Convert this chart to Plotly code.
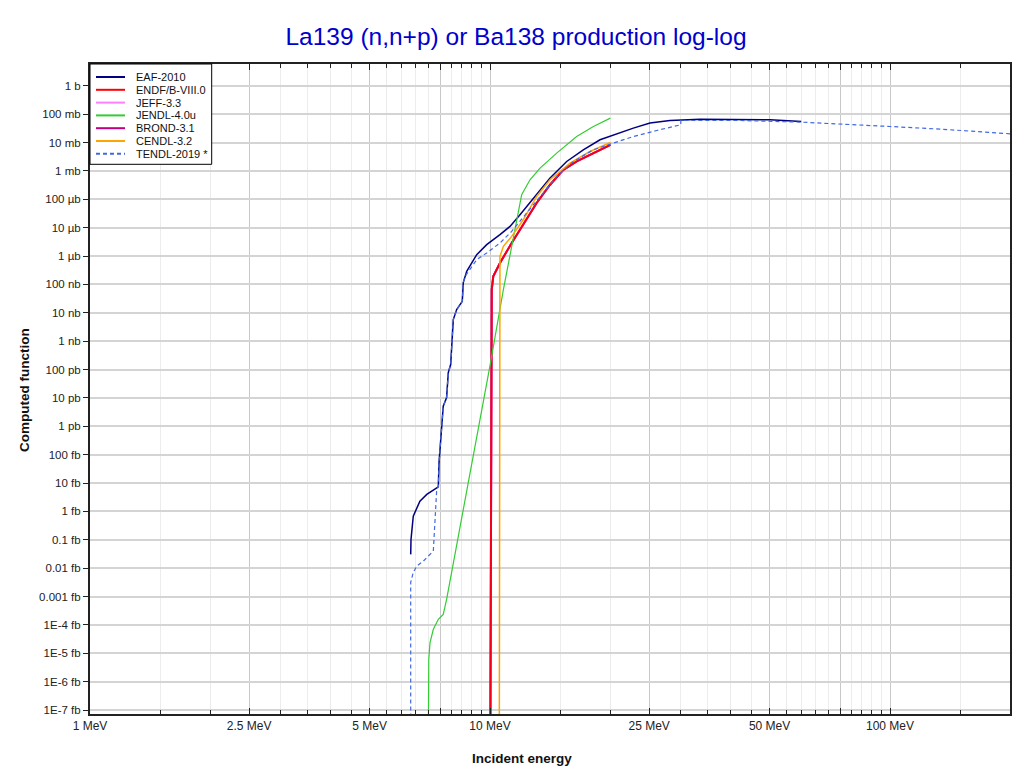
import plotly.graph_objects as go

TITLE = "La139 (n,n+p) or Ba138 production log-log"
X_TITLE = "Incident energy"
Y_TITLE = "Computed function"

SERIES_NAMES = ["EAF-2010", "ENDF/B-VIII.0", "JEFF-3.3", "JENDL-4.0u",
                "BROND-3.1", "CENDL-3.2", "TENDL-2019 *"]
SERIES_COLORS = ["#000080", "#ff0000", "#ff80ff", "#33cc33",
                 "#c0007f", "#ffa500", "#4169e1"]
SERIES_DASH = ["solid", "solid", "solid", "solid", "solid", "solid", "dash"]

# Energies in MeV, cross sections in barn
eaf_energy = [6.335, 6.346, 6.43, 6.68, 6.95, 7.427, 7.457, 7.499, 7.57, 7.64,
              7.79, 7.865, 7.974, 8.035, 8.095, 8.254, 8.525, 8.575, 8.745, 9.263,
              9.812, 10.59, 11.22, 11.885, 12.83, 14.13, 15.55, 17.11, 18.84, 20.33,
              22.82, 25.12, 28.18, 33.5, 38.23, 50.1, 60.0]
eaf_xs = [3.06e-17, 1.03e-16, 6.84e-16, 2.31e-15, 3.97e-15, 7.41e-15, 5.19e-14, 1.52e-13, 7.71e-13, 5.1e-12,
          1.03e-11, 7.83e-11, 1.5e-10, 1.14e-9, 5.77e-9, 1.3e-8, 2.54e-8, 1.16e-7, 2.89e-7, 1.12e-6,
          2.52e-6, 5.68e-6, 1.11e-5, 2.87e-5, 1.11e-4, 5.62e-4, 2.16e-3, 5.57e-3, 1.26e-2, 1.88e-2,
          3.24e-2, 4.86e-2, 6.0e-2, 6.71e-2, 6.71e-2, 6.35e-2, 5.53e-2]

endf_energy = [10.02, 10.07, 10.10, 10.19, 10.59, 11.33, 12.11, 13.08, 14.13, 15.25, 16.47, 18.13, 20.0]
endf_xs = [1e-23, 3e-8, 6.56e-8, 1.93e-7, 5.71e-7, 2.89e-6, 1.28e-5, 7.41e-5, 3.27e-4, 1.10e-3,
           2.16e-3, 4.27e-3, 8.37e-3]

# JEFF-3.3 and BROND-3.1 coincide with ENDF/B-VIII.0 (hidden beneath it)
jeff_energy = list(endf_energy)
jeff_xs = list(endf_xs)
brond_energy = list(endf_energy)
brond_xs = list(endf_xs)

jendl_energy = [7.01, 7.03, 7.08, 7.216, 7.427, 7.64, 7.79, 9.263, 10.0, 10.80,
                11.33, 12.0, 12.59, 13.34, 14.68, 16.47, 18.13, 20.0]
jendl_xs = [1e-23, 6.15e-21, 2.38e-20, 7.0e-20, 1.57e-19, 2.36e-19, 7.97e-19, 3.43e-13, 1.38e-10, 6.56e-8,
            2.32e-6, 1.45e-4, 4.9e-4, 1.26e-3, 4.27e-3, 1.64e-2, 3.69e-2, 7.29e-2]

cendl_energy = [10.55, 10.56, 10.59, 10.80, 11.33, 12.11, 13.08, 14.13, 15.85, 17.78, 20.0]
cendl_xs = [1e-23, 2e-7, 9.75e-7, 2.2e-6, 4.94e-6, 1.91e-5, 1.26e-4, 4.9e-4, 1.9e-3, 4.86e-3, 1.01e-2]

tendl_energy = [6.335, 6.335, 6.43, 6.56, 6.815, 7.19, 7.216, 7.359, 7.427, 7.457,
                7.499, 7.57, 7.64, 7.79, 7.865, 7.974, 8.035, 8.095, 8.254, 8.525,
                8.575, 8.66, 9.263, 9.812, 10.59, 11.33, 12.35, 13.34, 14.68, 16.15,
                18.13, 20.33, 22.82, 26.11, 29.99, 30.0, 33.5, 42.17, 59.57, 74.99,
                100.0, 133.4, 161.3, 200.0]
tendl_xs = [1e-23, 3.16e-18, 7.11e-18, 1.19e-17, 1.78e-17, 3.52e-17, 4.0e-17, 5.96e-15, 7.41e-15, 5.19e-14,
            1.52e-13, 7.71e-13, 5.1e-12, 1.03e-11, 7.83e-11, 1.5e-10, 1.14e-9, 5.77e-9, 1.3e-8, 2.54e-8,
            1.16e-7, 1.93e-7, 7.47e-7, 1.29e-6, 2.89e-6, 7.41e-6, 3.3e-5, 1.26e-4, 6.4e-4, 2.16e-3,
            5.57e-3, 9.6e-3, 1.64e-2, 2.67e-2, 4.24e-2, 6.0e-2, 6.0e-2, 6.0e-2, 5.27e-2, 4.59e-2,
            3.69e-2, 2.99e-2, 2.46e-2, 2.04e-2]

x_major_vals = [1, 2.5, 5, 7.5, 10, 25, 50, 75, 100]
x_major_text = ["1 MeV", "2.5 MeV", "5 MeV", "", "10 MeV", "25 MeV", "50 MeV", "", "100 MeV"]
x_minor_vals = [1.5, 2, 3, 3.5, 4, 4.5, 5.5, 6, 6.5, 7, 8, 8.5, 9, 9.5,
                15, 20, 30, 35, 40, 45, 55, 60, 65, 70, 80, 85, 90, 95, 150]

y_tick_vals = [10.0 ** e for e in range(-22, 1)]
y_tick_text = ["1E-7 fb", "1E-6 fb", "1E-5 fb", "1E-4 fb", "0.001 fb", "0.01 fb", "0.1 fb",
               "1 fb", "10 fb", "100 fb", "1 pb", "10 pb", "100 pb", "1 nb", "10 nb", "100 nb",
               "1 µb", "10 µb", "100 µb", "1 mb", "10 mb", "100 mb", "1 b"]

FONT = "Liberation Sans, Arial, sans-serif"

series = {
    "EAF-2010": (eaf_energy, eaf_xs, 1.5),
    "ENDF/B-VIII.0": (endf_energy, endf_xs, 2.0),
    "JEFF-3.3": (jeff_energy, jeff_xs, 2.0),
    "JENDL-4.0u": (jendl_energy, jendl_xs, 1.2),
    "BROND-3.1": (brond_energy, brond_xs, 2.0),
    "CENDL-3.2": (cendl_energy, cendl_xs, 1.5),
    "TENDL-2019 *": (tendl_energy, tendl_xs, 1.2),
}
draw_order = ["EAF-2010", "JEFF-3.3", "BROND-3.1", "ENDF/B-VIII.0", "JENDL-4.0u", "CENDL-3.2", "TENDL-2019 *"]

fig = go.Figure()
for name in draw_order:
    i = SERIES_NAMES.index(name)
    xs, ys, w = series[name]
    dash = "4px,3px" if SERIES_DASH[i] == "dash" else "solid"
    fig.add_trace(go.Scatter(
        x=xs, y=ys, mode="lines", name=name, showlegend=False,
        opacity=0.8 if name == "ENDF/B-VIII.0" else 1.0,
        line=dict(color=SERIES_COLORS[i], width=w, dash=dash),
    ))

# The page body has an 8px default margin; all page positions below are
# converted to figure positions by subtracting it.
OFF = 8
FIG_W, FIG_H = 1020 - OFF, 774 - OFF
# plot area in page pixels
L, R, T, B = 90, 1010, 64, 714
PW, PH = R - L, B - T


def px_x(x):
    return (x - L) / PW


def px_y(y):
    return (B - y) / PH


shapes = [
    # legend box
    dict(type="rect", xref="paper", yref="paper", x0=px_x(90), x1=px_x(211.7),
         y0=px_y(164.3), y1=px_y(64), fillcolor="white",
         line=dict(color="black", width=1), layer="above"),
]
annotations = []
for i, name in enumerate(SERIES_NAMES):
    yy = 77 + i * 12.8
    shapes.append(dict(type="line", xref="paper", yref="paper",
                       x0=px_x(96), x1=px_x(125), y0=px_y(yy), y1=px_y(yy),
                       line=dict(color=SERIES_COLORS[i], width=2,
                                 dash="4px,3px" if SERIES_DASH[i] == "dash" else "solid"),
                       layer="above"))
    annotations.append(dict(text=name, xref="paper", yref="paper", x=px_x(134), y=px_y(yy),
                            xanchor="left", yanchor="middle", showarrow=False,
                            font=dict(family=FONT, size=11, color="#111")))

annotations.append(dict(text="<b>" + X_TITLE + "</b>", xref="paper", yref="paper",
                        x=px_x(522), y=px_y(758), xanchor="center", yanchor="middle",
                        showarrow=False, font=dict(family=FONT, size=13.5, color="#111")))
annotations.append(dict(text="<b>" + Y_TITLE + "</b>", xref="paper", yref="paper",
                        x=px_x(25), y=px_y(390), xanchor="center", yanchor="middle",
                        textangle=-90, showarrow=False,
                        font=dict(family=FONT, size=13.5, color="#111")))

fig.update_layout(
    width=FIG_W, height=FIG_H,
    margin=dict(l=L - OFF, r=1020 - R, t=T - OFF, b=774 - B, autoexpand=False),
    paper_bgcolor="white", plot_bgcolor="white",
    title=dict(text=TITLE, x=(516 - OFF) / FIG_W, xref="container", xanchor="center",
               y=1 - (36 - OFF) / FIG_H, yref="container", yanchor="middle",
               font=dict(family=FONT, size=24.5, color="#0000cc"), automargin=False),
    showlegend=False,
    shapes=shapes,
    annotations=annotations,
    xaxis=dict(
        type="log", range=[0, 2.3], tickmode="array", automargin=False,
        tickvals=x_major_vals, ticktext=x_major_text,
        showgrid=True, gridcolor="#c8c8c8", gridwidth=1,
        ticks="inside", ticklen=6, tickcolor="#222", tickwidth=1,
        showline=True, linecolor="#222", linewidth=2, mirror="allticks",
        zeroline=False,
        minor=dict(tickmode="array", tickvals=x_minor_vals, ticks="inside",
                   ticklen=4, tickcolor="#222", tickwidth=1,
                   showgrid=True, gridcolor="#ececec", gridwidth=1),
        tickfont=dict(family=FONT, size=12, color="#222"),
    ),
    yaxis=dict(
        type="log", range=[-22.14, 0.77], tickmode="array", automargin=False,
        tickvals=y_tick_vals, ticktext=y_tick_text,
        showgrid=True, gridcolor="#d4d4d4", gridwidth=1.5,
        ticks="outside", ticklen=5, tickcolor="#222", tickwidth=1,
        showline=True, linecolor="#222", linewidth=2, mirror="ticks",
        zeroline=False,
        tickfont=dict(family=FONT, size=11.5, color="#222"),
    ),
)

fig.write_html("out.html")
